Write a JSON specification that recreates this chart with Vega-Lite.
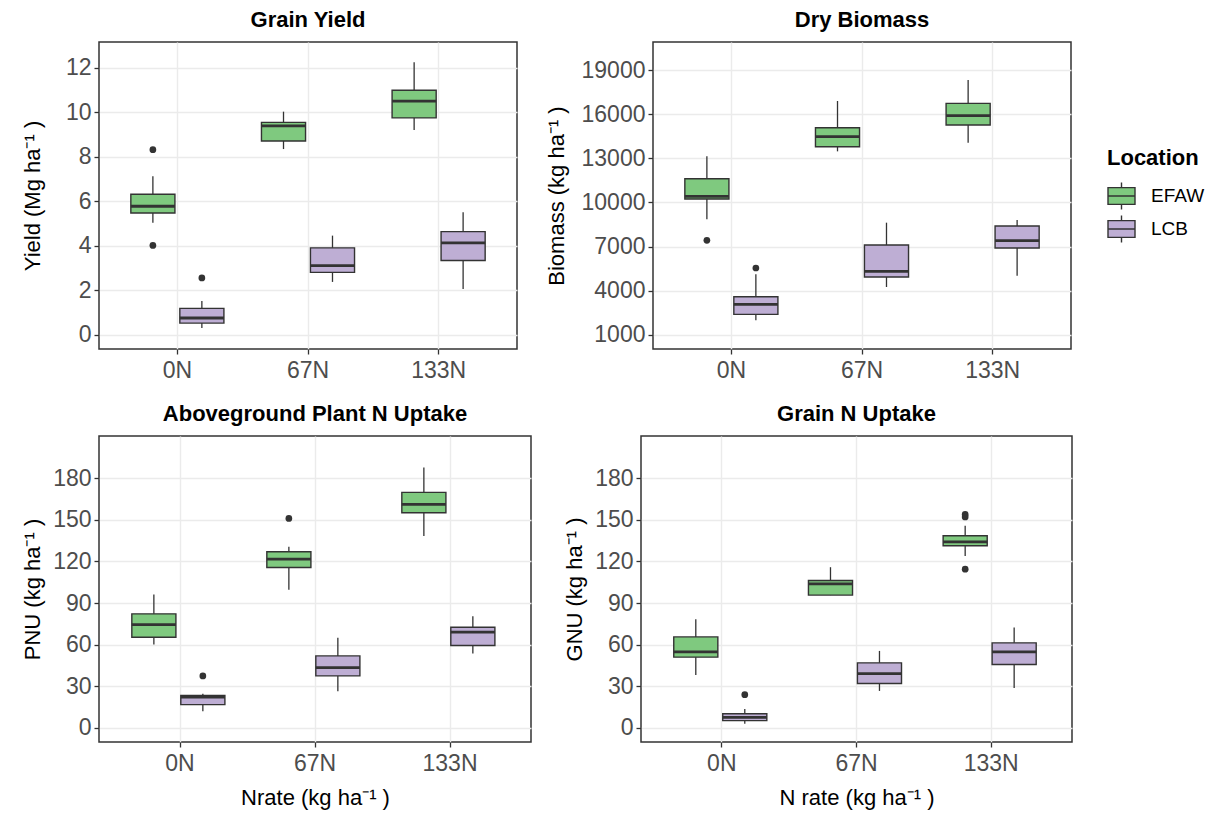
{
  "$schema": "https://vega.github.io/schema/vega-lite/v6.json",
  "padding": {"left": 20, "top": 8, "right": 5, "bottom": 2},
  "background": "white",
  "datasets": {
    "boxes": [
      {"panel": "GY", "Nrate": "0N", "Location": "EFAW", "lo": 5.03, "q1": 5.47, "med": 5.77, "q3": 6.31, "hi": 7.12},
      {"panel": "GY", "Nrate": "0N", "Location": "LCB", "lo": 0.30, "q1": 0.52, "med": 0.75, "q3": 1.18, "hi": 1.51},
      {"panel": "GY", "Nrate": "67N", "Location": "EFAW", "lo": 8.34, "q1": 8.70, "med": 9.38, "q3": 9.54, "hi": 10.02},
      {"panel": "GY", "Nrate": "67N", "Location": "LCB", "lo": 2.37, "q1": 2.80, "med": 3.10, "q3": 3.90, "hi": 4.45},
      {"panel": "GY", "Nrate": "133N", "Location": "EFAW", "lo": 9.20, "q1": 9.74, "med": 10.49, "q3": 10.98, "hi": 12.24},
      {"panel": "GY", "Nrate": "133N", "Location": "LCB", "lo": 2.05, "q1": 3.33, "med": 4.12, "q3": 4.63, "hi": 5.50},
      {"panel": "DB", "Nrate": "0N", "Location": "EFAW", "lo": 8853, "q1": 10237, "med": 10419, "q3": 11622, "hi": 13143},
      {"panel": "DB", "Nrate": "0N", "Location": "LCB", "lo": 1976, "q1": 2384, "med": 3065, "q3": 3587, "hi": 5108},
      {"panel": "DB", "Nrate": "67N", "Location": "EFAW", "lo": 13483, "q1": 13800, "med": 14482, "q3": 15094, "hi": 16910},
      {"panel": "DB", "Nrate": "67N", "Location": "LCB", "lo": 4246, "q1": 4926, "med": 5312, "q3": 7105, "hi": 8626},
      {"panel": "DB", "Nrate": "133N", "Location": "EFAW", "lo": 14073, "q1": 15276, "med": 15911, "q3": 16751, "hi": 18340},
      {"panel": "DB", "Nrate": "133N", "Location": "LCB", "lo": 5017, "q1": 6901, "med": 7400, "q3": 8399, "hi": 8808},
      {"panel": "PNU", "Nrate": "0N", "Location": "EFAW", "lo": 60.1, "q1": 65.4, "med": 74.5, "q3": 82.2, "hi": 96.1},
      {"panel": "PNU", "Nrate": "0N", "Location": "LCB", "lo": 12.0, "q1": 16.8, "med": 22.2, "q3": 23.4, "hi": 24.6},
      {"panel": "PNU", "Nrate": "67N", "Location": "EFAW", "lo": 99.5, "q1": 115.6, "med": 121.6, "q3": 126.9, "hi": 130.5},
      {"panel": "PNU", "Nrate": "67N", "Location": "LCB", "lo": 26.4, "q1": 37.5, "med": 43.5, "q3": 51.9, "hi": 64.9},
      {"panel": "PNU", "Nrate": "133N", "Location": "EFAW", "lo": 138.2, "q1": 155.0, "med": 161.0, "q3": 169.7, "hi": 187.7},
      {"panel": "PNU", "Nrate": "133N", "Location": "LCB", "lo": 53.6, "q1": 59.4, "med": 69.0, "q3": 72.6, "hi": 80.5},
      {"panel": "GNU", "Nrate": "0N", "Location": "EFAW", "lo": 38.2, "q1": 51.0, "med": 54.8, "q3": 65.6, "hi": 78.3},
      {"panel": "GNU", "Nrate": "0N", "Location": "LCB", "lo": 3.1, "q1": 5.3, "med": 7.7, "q3": 10.3, "hi": 13.7},
      {"panel": "GNU", "Nrate": "67N", "Location": "EFAW", "lo": 95.7, "q1": 95.7, "med": 103.8, "q3": 106.2, "hi": 115.8},
      {"panel": "GNU", "Nrate": "67N", "Location": "LCB", "lo": 26.7, "q1": 32.0, "med": 39.2, "q3": 46.9, "hi": 55.5},
      {"panel": "GNU", "Nrate": "133N", "Location": "EFAW", "lo": 123.8, "q1": 131.2, "med": 134.1, "q3": 138.4, "hi": 145.6},
      {"panel": "GNU", "Nrate": "133N", "Location": "LCB", "lo": 28.8, "q1": 45.7, "med": 54.8, "q3": 61.3, "hi": 72.3}
    ],
    "outliers": [
      {"panel": "GY", "Nrate": "0N", "Location": "EFAW", "value": 8.31},
      {"panel": "GY", "Nrate": "0N", "Location": "EFAW", "value": 4.01},
      {"panel": "GY", "Nrate": "0N", "Location": "LCB", "value": 2.55},
      {"panel": "DB", "Nrate": "0N", "Location": "EFAW", "value": 7423},
      {"panel": "DB", "Nrate": "0N", "Location": "LCB", "value": 5539},
      {"panel": "PNU", "Nrate": "0N", "Location": "LCB", "value": 37.5},
      {"panel": "PNU", "Nrate": "67N", "Location": "EFAW", "value": 150.9},
      {"panel": "GNU", "Nrate": "0N", "Location": "LCB", "value": 24.0},
      {"panel": "GNU", "Nrate": "133N", "Location": "EFAW", "value": 153.8},
      {"panel": "GNU", "Nrate": "133N", "Location": "EFAW", "value": 152.0},
      {"panel": "GNU", "Nrate": "133N", "Location": "EFAW", "value": 114.4}
    ]
  },
  "resolve": {"scale": {"color": "shared"}, "legend": {"color": "shared"}},
  "spacing": 19,
  "vconcat": [
    {
      "spacing": 26,
      "resolve": {"scale": {"color": "shared"}, "legend": {"color": "shared"}},
      "hconcat": [
        {
          "title": "Grain Yield",
          "width": 418, "height": 307,
          "data": {"name": "boxes"},
          "transform": [{"filter": "datum.panel === 'GY'"}],
          "encoding": {
            "x": {"field": "Nrate", "type": "nominal", "title": null, "scale": {"domain": ["0N", "67N", "133N"], "paddingInner": 0.25, "paddingOuter": 0.225}, "axis": {"bandPosition": 0.5, "labelAngle": 0, "labelPadding": 5, "grid": true, "gridWidth": 1.4}},
            "xOffset": {"field": "Location", "type": "nominal", "scale": {"domain": ["EFAW", "LCB"], "paddingInner": 0.1, "paddingOuter": 0.05}}
          },
          "layer": [
            {
              "mark": {"type": "rule", "color": "#333333", "strokeWidth": 1.3},
              "encoding": {
                "y": {"field": "lo", "type": "quantitative", "title": "Yield (Mg ha⁻¹ )",
                  "scale": {"domain": [-0.644, 13.15], "nice": false, "zero": false},
                  "axis": {"values": [0,1,2,3,4,5,6,7,8,9,10,11,12,13], "format": "d",
                    "labelExpr": "datum.value % 2 === 0 ? datum.label : ''",
                    "gridWidth": {"condition": {"test": "datum.value % 2 === 0", "value": 1.4}, "value": 0.7},
                    "tickOpacity": {"condition": {"test": "datum.value % 2 === 0", "value": 1}, "value": 0},
                    "minExtent": 34, "maxExtent": 34, "titlePadding": 21}},
                "y2": {"field": "hi"}
              }
            },
            {
              "mark": {"type": "bar", "stroke": "#333333", "strokeWidth": 1.4},
              "encoding": {
                "y": {"field": "q1", "type": "quantitative", "title": "Yield (Mg ha⁻¹ )"},
                "y2": {"field": "q3"},
                "color": {"field": "Location", "type": "nominal", "title": "Location", "scale": {"domain": ["EFAW", "LCB"], "range": ["#7FC97F", "#BEAED4"]}, "legend": {"orient": "none", "legendX": 1008, "legendY": 106}}
              }
            },
            {
              "mark": {"type": "bar", "fill": "transparent", "stroke": "#333333", "strokeWidth": 2.8},
              "encoding": {
                "y": {"field": "med", "type": "quantitative", "title": "Yield (Mg ha⁻¹ )"},
                "y2": {"field": "med"}
              }
            },
            {
              "data": {"name": "outliers"},
              "transform": [{"filter": "datum.panel === 'GY'"}],
              "mark": {"type": "point", "filled": true, "color": "#333333", "size": 45, "opacity": 1},
              "encoding": {
                "y": {"field": "value", "type": "quantitative", "title": "Yield (Mg ha⁻¹ )"}
              }
            }
          ]
        },
        {
          "title": "Dry Biomass",
          "width": 418, "height": 307,
          "data": {"name": "boxes"},
          "transform": [{"filter": "datum.panel === 'DB'"}],
          "encoding": {
            "x": {"field": "Nrate", "type": "nominal", "title": null, "scale": {"domain": ["0N", "67N", "133N"], "paddingInner": 0.25, "paddingOuter": 0.225}, "axis": {"bandPosition": 0.5, "labelAngle": 0, "labelPadding": 5, "grid": true, "gridWidth": 1.4}},
            "xOffset": {"field": "Location", "type": "nominal", "scale": {"domain": ["EFAW", "LCB"], "paddingInner": 0.1, "paddingOuter": 0.05}}
          },
          "layer": [
            {
              "mark": {"type": "rule", "color": "#333333", "strokeWidth": 1.3},
              "encoding": {
                "y": {"field": "lo", "type": "quantitative", "title": "Biomass (kg ha⁻¹ )",
                  "scale": {"domain": [24, 20929], "nice": false, "zero": false},
                  "axis": {"values": [1000,2500,4000,5500,7000,8500,10000,11500,13000,14500,16000,17500,19000,20500], "format": "d",
                    "labelExpr": "(datum.value - 1000) % 3000 === 0 ? datum.label : ''",
                    "gridWidth": {"condition": {"test": "(datum.value - 1000) % 3000 === 0", "value": 1.4}, "value": 0.7},
                    "tickOpacity": {"condition": {"test": "(datum.value - 1000) % 3000 === 0", "value": 1}, "value": 0},
                    "minExtent": 73, "maxExtent": 73, "titlePadding": 12}},
                "y2": {"field": "hi"}
              }
            },
            {
              "mark": {"type": "bar", "stroke": "#333333", "strokeWidth": 1.4},
              "encoding": {
                "y": {"field": "q1", "type": "quantitative", "title": "Biomass (kg ha⁻¹ )"},
                "y2": {"field": "q3"},
                "color": {"field": "Location", "type": "nominal", "title": "Location", "scale": {"domain": ["EFAW", "LCB"], "range": ["#7FC97F", "#BEAED4"]}, "legend": {"orient": "none", "legendX": 1008, "legendY": 106}}
              }
            },
            {
              "mark": {"type": "bar", "fill": "transparent", "stroke": "#333333", "strokeWidth": 2.8},
              "encoding": {
                "y": {"field": "med", "type": "quantitative", "title": "Biomass (kg ha⁻¹ )"},
                "y2": {"field": "med"}
              }
            },
            {
              "data": {"name": "outliers"},
              "transform": [{"filter": "datum.panel === 'DB'"}],
              "mark": {"type": "point", "filled": true, "color": "#333333", "size": 45, "opacity": 1},
              "encoding": {
                "y": {"field": "value", "type": "quantitative", "title": "Biomass (kg ha⁻¹ )"}
              }
            }
          ]
        }
      ]
    },
    {
      "spacing": 30,
      "resolve": {"scale": {"color": "shared"}, "legend": {"color": "shared"}},
      "hconcat": [
        {
          "title": "Aboveground Plant N Uptake",
          "width": 432, "height": 306,
          "data": {"name": "boxes"},
          "transform": [{"filter": "datum.panel === 'PNU'"}],
          "encoding": {
            "x": {"field": "Nrate", "type": "nominal", "title": "Nrate (kg ha⁻¹ )", "scale": {"domain": ["0N", "67N", "133N"], "paddingInner": 0.25, "paddingOuter": 0.225}, "axis": {"bandPosition": 0.5, "labelAngle": 0, "labelPadding": 5, "grid": true, "gridWidth": 1.4, "titlePadding": 12}},
            "xOffset": {"field": "Location", "type": "nominal", "scale": {"domain": ["EFAW", "LCB"], "paddingInner": 0.1, "paddingOuter": 0.05}}
          },
          "layer": [
            {
              "mark": {"type": "rule", "color": "#333333", "strokeWidth": 1.3},
              "encoding": {
                "y": {"field": "lo", "type": "quantitative", "title": "PNU (kg ha⁻¹ )",
                  "scale": {"domain": [-10.1, 210.3], "nice": false, "zero": false},
                  "axis": {"values": [0,15,30,45,60,75,90,105,120,135,150,165,180,195], "format": "d",
                    "labelExpr": "datum.value % 30 === 0 ? datum.label : ''",
                    "gridWidth": {"condition": {"test": "datum.value % 30 === 0", "value": 1.4}, "value": 0.7},
                    "tickOpacity": {"condition": {"test": "datum.value % 30 === 0", "value": 1}, "value": 0},
                    "minExtent": 47, "maxExtent": 47, "titlePadding": 8}},
                "y2": {"field": "hi"}
              }
            },
            {
              "mark": {"type": "bar", "stroke": "#333333", "strokeWidth": 1.4},
              "encoding": {
                "y": {"field": "q1", "type": "quantitative", "title": "PNU (kg ha⁻¹ )"},
                "y2": {"field": "q3"},
                "color": {"field": "Location", "type": "nominal", "title": "Location", "scale": {"domain": ["EFAW", "LCB"], "range": ["#7FC97F", "#BEAED4"]}, "legend": {"orient": "none", "legendX": 1008, "legendY": 106}}
              }
            },
            {
              "mark": {"type": "bar", "fill": "transparent", "stroke": "#333333", "strokeWidth": 2.8},
              "encoding": {
                "y": {"field": "med", "type": "quantitative", "title": "PNU (kg ha⁻¹ )"},
                "y2": {"field": "med"}
              }
            },
            {
              "data": {"name": "outliers"},
              "transform": [{"filter": "datum.panel === 'PNU'"}],
              "mark": {"type": "point", "filled": true, "color": "#333333", "size": 45, "opacity": 1},
              "encoding": {
                "y": {"field": "value", "type": "quantitative", "title": "PNU (kg ha⁻¹ )"}
              }
            }
          ]
        },
        {
          "title": "Grain N Uptake",
          "width": 431, "height": 306,
          "data": {"name": "boxes"},
          "transform": [{"filter": "datum.panel === 'GNU'"}],
          "encoding": {
            "x": {"field": "Nrate", "type": "nominal", "title": "N rate (kg ha⁻¹ )", "scale": {"domain": ["0N", "67N", "133N"], "paddingInner": 0.25, "paddingOuter": 0.225}, "axis": {"bandPosition": 0.5, "labelAngle": 0, "labelPadding": 5, "grid": true, "gridWidth": 1.4, "titlePadding": 12}},
            "xOffset": {"field": "Location", "type": "nominal", "scale": {"domain": ["EFAW", "LCB"], "paddingInner": 0.1, "paddingOuter": 0.05}}
          },
          "layer": [
            {
              "mark": {"type": "rule", "color": "#333333", "strokeWidth": 1.3},
              "encoding": {
                "y": {"field": "lo", "type": "quantitative", "title": "GNU (kg ha⁻¹ )",
                  "scale": {"domain": [-10.1, 210.3], "nice": false, "zero": false},
                  "axis": {"values": [0,15,30,45,60,75,90,105,120,135,150,165,180,195], "format": "d",
                    "labelExpr": "datum.value % 30 === 0 ? datum.label : ''",
                    "gridWidth": {"condition": {"test": "datum.value % 30 === 0", "value": 1.4}, "value": 0.7},
                    "tickOpacity": {"condition": {"test": "datum.value % 30 === 0", "value": 1}, "value": 0},
                    "minExtent": 47, "maxExtent": 47, "titlePadding": 8}},
                "y2": {"field": "hi"}
              }
            },
            {
              "mark": {"type": "bar", "stroke": "#333333", "strokeWidth": 1.4},
              "encoding": {
                "y": {"field": "q1", "type": "quantitative", "title": "GNU (kg ha⁻¹ )"},
                "y2": {"field": "q3"},
                "color": {"field": "Location", "type": "nominal", "title": "Location", "scale": {"domain": ["EFAW", "LCB"], "range": ["#7FC97F", "#BEAED4"]}, "legend": {"orient": "none", "legendX": 1008, "legendY": 106}}
              }
            },
            {
              "mark": {"type": "bar", "fill": "transparent", "stroke": "#333333", "strokeWidth": 2.8},
              "encoding": {
                "y": {"field": "med", "type": "quantitative", "title": "GNU (kg ha⁻¹ )"},
                "y2": {"field": "med"}
              }
            },
            {
              "data": {"name": "outliers"},
              "transform": [{"filter": "datum.panel === 'GNU'"}],
              "mark": {"type": "point", "filled": true, "color": "#333333", "size": 45, "opacity": 1},
              "encoding": {
                "y": {"field": "value", "type": "quantitative", "title": "GNU (kg ha⁻¹ )"}
              }
            }
          ]
        }
      ]
    }
  ],
  "config": {
    "font": "Liberation Sans",
    "view": {"stroke": "#333333", "strokeWidth": 1.5},
    "title": {"font": "Liberation Sans", "fontSize": 22, "fontWeight": "bold", "color": "#000000", "anchor": "middle", "frame": "group", "offset": 10, "baseline": "alphabetic"},
    "axis": {"domain": false, "grid": true, "gridColor": "#EBEBEB", "tickColor": "#333333", "tickWidth": 1.3, "tickSize": 5,
      "labelFont": "Liberation Sans", "labelFontSize": 23, "labelColor": "#4D4D4D", "labelPadding": 3,
      "titleFont": "Liberation Sans", "titleFontSize": 22, "titleFontWeight": "normal", "titleColor": "#000000",
      "labelOverlap": false, "labelFlush": false},
    "legend": {"symbolType": "M-1,-0.62H1V0.62H-1Z M-1,0H1 M0,-0.62V-1 M0,0.62V1", "symbolSize": 729,
      "symbolStrokeColor": "#333333", "symbolStrokeWidth": 1.4, "symbolOpacity": 1,
      "titleFont": "Liberation Sans", "titleFontSize": 22, "titleFontWeight": "bold", "titleColor": "#000000",
      "labelFont": "Liberation Sans", "labelFontSize": 19, "labelColor": "#000000",
      "titlePadding": 11.5, "rowPadding": 0, "labelOffset": 15, "padding": 0}
  }
}
